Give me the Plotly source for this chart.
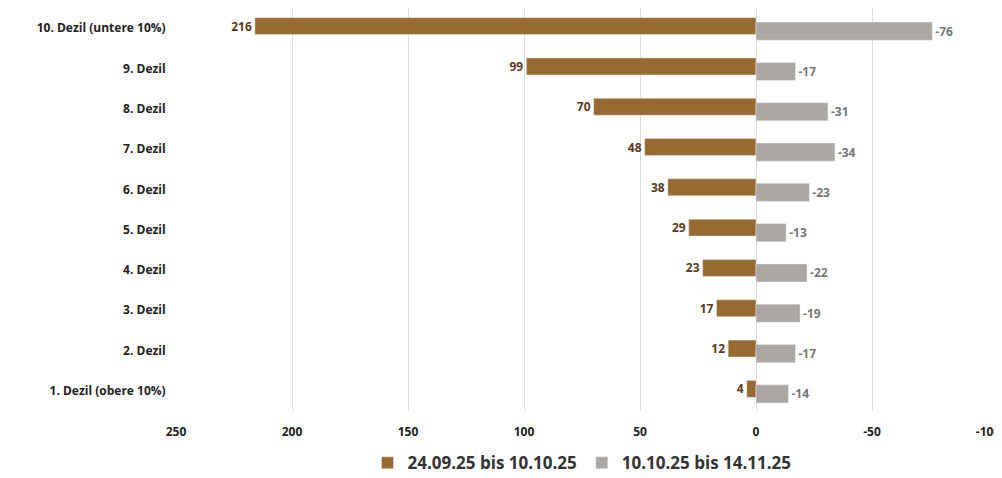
import plotly.graph_objects as go

categories = ["10. Dezil (untere 10%)", "9. Dezil", "8. Dezil", "7. Dezil", "6. Dezil",
              "5. Dezil", "4. Dezil", "3. Dezil", "2. Dezil", "1. Dezil (obere 10%)"]
series1 = [216, 99, 70, 48, 38, 29, 23, 17, 12, 4]
series2 = [-76, -17, -31, -34, -23, -13, -22, -19, -17, -14]
name1 = "24.09.25 bis 10.10.25"
name2 = "10.10.25 bis 14.11.25"
tickvals = [250, 200, 150, 100, 50, 0, -50, -100]
ticktext = ["250", "200", "150", "100", "50", "0", "-50", "-100"]

fnt = "Open Sans"
fig = go.Figure()
fig.add_bar(y=categories, x=series1, orientation="h", name=name1,
            marker_color="#966a30", offset=-0.26, width=0.42,
            text=[str(v) for v in series1], textposition="outside",
            textfont=dict(color="#5a3b1c", size=12, family=fnt, weight="bold"),
            cliponaxis=False)
fig.add_bar(y=categories, x=series2, orientation="h", name=name2,
            marker_color="#aba7a2", offset=-0.15, width=0.45,
            text=[str(v) for v in series2], textposition="outside",
            textfont=dict(color="#777777", size=12, family=fnt, weight="bold"),
            cliponaxis=False)
fig.update_layout(
    width=1002, height=478, barmode="overlay",
    plot_bgcolor="white", paper_bgcolor="white",
    margin=dict(l=168, r=22, t=0, b=75),
    font=dict(family=fnt, size=12, color="#222"),
    xaxis=dict(range=[250, -100], tickvals=tickvals, ticktext=ticktext, showgrid=True,
               gridcolor="#dddddd", zeroline=False, automargin=False,
               ticklabelstandoff=12,
               tickfont=dict(size=12, weight="bold")),
    yaxis=dict(autorange="reversed", tickfont=dict(size=12, weight="bold"),
               ticksuffix="   ", automargin=False),
    legend=dict(orientation="h", x=0.5, xanchor="center", y=-0.085, yanchor="top",
                font=dict(size=17, weight="bold", color="#333"), traceorder="normal"),
)
fig.write_html("out.html")
